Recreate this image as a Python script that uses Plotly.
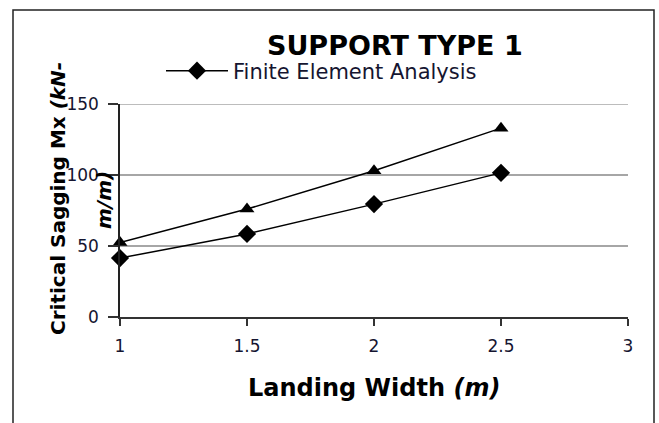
import plotly.graph_objects as go

# Landing widths (m) and critical sagging moments (kN-m/m)
landing_width = [1.0, 1.5, 2.0, 2.5]
fea_moment = [41.5, 58.5, 79.5, 101.5]
code_moment = [52.5, 76.0, 103.0, 133.0]

x_ticks = [1, 1.5, 2, 2.5, 3]
y_ticks = [0, 50, 100, 150]

FONT = "'DejaVu Sans', sans-serif"
INK = "#151530"

# plot area in pixels, used to place the free text around it
PL, PR, PT, PB = 120, 628, 104, 317
PW, PH = PR - PL, PB - PT


def px(x):
    return (x - PL) / PW


def py(y):
    return (PB - y) / PH


fig = go.Figure()

fig.add_trace(go.Scatter(
    x=landing_width, y=fea_moment, mode="lines+markers",
    name="Finite Element Analysis",
    line=dict(color="black", width=1.5),
    marker=dict(symbol="diamond", size=14, color="black"),
    cliponaxis=False,
))
fig.add_trace(go.Scatter(
    x=landing_width, y=code_moment, mode="lines+markers",
    name="Code",
    showlegend=False,
    line=dict(color="black", width=1.5),
    marker=dict(symbol="triangle-up", size=13, color="black"),
    cliponaxis=False,
))

fig.update_layout(
    width=659, height=423,
    margin=dict(l=PL, r=659 - PR, t=PT, b=423 - PB),
    paper_bgcolor="white", plot_bgcolor="white",
    font=dict(family=FONT, color=INK, size=17),
    showlegend=True,
    legend=dict(
        x=px(161), y=py(71), xanchor="left", yanchor="middle",
        xref="paper", yref="paper", borderwidth=0,
        font=dict(family=FONT, size=21, color=INK),
        bgcolor="rgba(0,0,0,0)", itemwidth=62,
    ),
    xaxis=dict(
        range=[1, 3], tickvals=x_ticks, ticktext=[str(v) for v in x_ticks],
        showgrid=False, zeroline=False,
        showline=True, linecolor="#333333", linewidth=1.5,
        ticks="outside", ticklen=7, tickcolor="#333333", tickwidth=1.5,
        ticklabelstandoff=6,
        tickfont=dict(size=17, family=FONT, color=INK),
    ),
    yaxis=dict(
        range=[0, 150], tickvals=y_ticks,
        showgrid=True, gridcolor="#a6a6a6", gridwidth=1.5,
        zeroline=False,
        showline=True, linecolor="#222222", linewidth=1.5,
        ticks="outside", ticklen=10, tickcolor="#333333", tickwidth=1.5,
        ticklabelstandoff=6,
        tickfont=dict(size=17, family=FONT, color=INK),
    ),
    shapes=[
        # gridline at the top of the value range
        dict(type="line", xref="paper", yref="y", x0=0, x1=1, y0=150, y1=150,
             line=dict(color="#a6a6a6", width=1.5), layer="below"),
        # chart frame
        dict(type="rect", xref="paper", yref="paper",
             x0=px(13), x1=px(654), y0=py(440), y1=py(10),
             line=dict(color="#222222", width=1.5), layer="below"),
    ],
    annotations=[
        dict(text="<b>SUPPORT TYPE 1</b>", xref="paper", yref="paper",
             x=px(395), y=py(45),
             showarrow=False, xanchor="center", yanchor="middle",
             font=dict(size=27, family=FONT, color="black")),
        dict(text="<b>Landing Width <i>(m)</i></b>", xref="paper", yref="paper",
             x=0.5, y=py(388),
             showarrow=False, xanchor="center", yanchor="middle",
             font=dict(size=24, family=FONT, color="black")),
        dict(text="<b>Critical Sagging Mx <i>(kN-</i></b>", xref="paper", yref="paper",
             x=px(58), y=py(199), textangle=-90,
             showarrow=False, xanchor="center", yanchor="middle",
             font=dict(size=20, family=FONT, color="black")),
        dict(text="<b><i>m/m)</i></b>", xref="paper", yref="paper",
             x=px(104), y=py(200), textangle=-90,
             showarrow=False, xanchor="center", yanchor="middle",
             font=dict(size=20, family=FONT, color="black")),
    ],
)

fig.write_html("out.html")
